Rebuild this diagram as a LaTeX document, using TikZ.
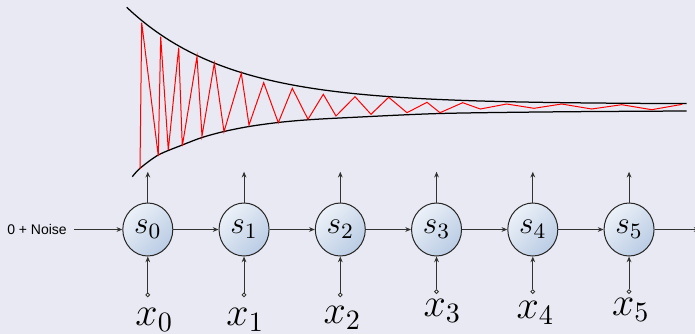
\RequirePackage{fix-cm}
\documentclass[tikz,border=0pt]{standalone}
\usepackage{fontspec}
\newfontfamily\noisefont{Liberation Sans}
\usepackage{tikz}
\usetikzlibrary{positioning,arrows.meta,shapes.geometric}
\definecolor{bgcol}{RGB}{233,233,243}
\definecolor{celllight}{RGB}{236,241,248}
\definecolor{celldark}{RGB}{186,204,228}
\definecolor{wire}{RGB}{50,50,50}

\begin{document}
\begin{tikzpicture}[
    x=0.4pt, y=-0.4pt,
    cell/.style={draw=black!85, ellipse, minimum width=20pt, minimum height=21.2pt, inner sep=0pt,
        top color=celllight, bottom color=celldark, shading angle=45, font=\fontsize{12.5}{15}\selectfont},
    inp/.style={draw=wire, circle, fill=white, inner sep=0pt, minimum size=1.5pt, line width=0.35pt},
    xlab/.style={anchor=base west, inner sep=0pt, font=\fontsize{16}{19}\selectfont},
    noise/.style={font=\noisefont\fontsize{5.6}{6}\selectfont, inner xsep=2.8pt, inner ysep=1pt},
    arrow/.style={-{Stealth[length=2.3pt,width=1.9pt]}, draw=wire, line width=0.4pt},
    envelope/.style={black, line width=0.5pt},
    zigzag/.style={red, line width=0.4pt, line join=miter}
]
    % Background
    \path[use as bounding box, fill=bgcol] (0,0) rectangle (695,334);

    % Envelope curves
    \draw[envelope] plot[domain=126.7:686.7, samples=80] (\x, {104-96.7*exp(-(\x-126.7)/102)});
    \draw[envelope] plot[smooth] coordinates {(132.3,176.7) (140,168.3) (158.3,155) (182.3,145) (202,137.5)
        (224,131.5) (249,126.5) (278,122.5) (308,119.8) (350,117.5) (440,113.5) (560,111.8) (686.7,111)};

    % Damped oscillation
    \draw[zigzag] (140,169) -- (141.7,22.7) -- (158.3,156) -- (160.7,36.7) -- (168.3,150) -- (178.7,47.7)
        -- (182.3,146) -- (197,56.7) -- (202,136) -- (214.3,63.3) -- (224,131.7) -- (241.3,73.3)
        -- (249,125) -- (263.7,82.7) -- (278.3,122.7) -- (292.3,88.3) -- (308,119.3) -- (323.3,94.3)
        -- (336,116) -- (355,96.7) -- (371,114.3) -- (388.7,97.3) -- (407,112.7) -- (427,102.3)
        -- (440,112.7) -- (462.7,102.7) -- (480.3,109) -- (506.7,104) -- (534,108.3) -- (561.7,104)
        -- (591.7,109) -- (621.7,104.7) -- (651.7,109.7) -- (682.3,104.3);

    % States
    \node[cell] (s0) at (147.8,229.5) {$s_0$};
    \node[cell, right=18.1pt of s0] (s1) {$s_1$};
    \node[cell, right=18.1pt of s1] (s2) {$s_2$};
    \node[cell, right=18.1pt of s2] (s3) {$s_3$};
    \node[cell, right=18.1pt of s3] (s4) {$s_4$};
    \node[cell, right=18.1pt of s4] (s5) {$s_5$};

    % Initial state
    \node[noise, left=19.2pt of s0] (noise) {0 + Noise};

    % Inputs
    \node[inp, below=14.4pt of s0] (in0) {};
    \node[inp, below=14.4pt of s1] (in1) {};
    \node[inp, below=14.4pt of s2] (in2) {};
    \node[inp, below=13.1pt of s3] (in3) {};
    \node[inp, below=13.1pt of s4] (in4) {};
    \node[inp, below=13.1pt of s5] (in5) {};

    \node[xlab] (x0) at (135,325) {$x_0$};
    \node[xlab] (x1) at (226,325) {$x_1$};
    \node[xlab] (x2) at (323,323.3) {$x_2$};
    \node[xlab] (x3) at (423,316.7) {$x_3$};
    \node[xlab] (x4) at (516,318) {$x_4$};
    \node[xlab] (x5) at (611.7,315) {$x_5$};

    % Outputs
    \coordinate[above=12.3pt of s0] (o0);
    \coordinate[above=12.3pt of s1] (o1);
    \coordinate[above=12.3pt of s2] (o2);
    \coordinate[above=12.3pt of s3] (o3);
    \coordinate[above=12.3pt of s4] (o4);
    \coordinate[above=12.3pt of s5] (o5);
    \coordinate[right=18pt of s5] (out);

    % Arrows
    \draw[arrow] (noise) -- (s0);
    \draw[arrow] (s0) -- (s1);
    \draw[arrow] (s1) -- (s2);
    \draw[arrow] (s2) -- (s3);
    \draw[arrow] (s3) -- (s4);
    \draw[arrow] (s4) -- (s5);
    \draw[arrow] (s5) -- (out);

    \draw[arrow] (in0) -- (s0);
    \draw[arrow] (in1) -- (s1);
    \draw[arrow] (in2) -- (s2);
    \draw[arrow] (in3) -- (s3);
    \draw[arrow] (in4) -- (s4);
    \draw[arrow] (in5) -- (s5);

    \draw[arrow] (s0) -- (o0);
    \draw[arrow] (s1) -- (o1);
    \draw[arrow] (s2) -- (o2);
    \draw[arrow] (s3) -- (o3);
    \draw[arrow] (s4) -- (o4);
    \draw[arrow] (s5) -- (o5);
\end{tikzpicture}
\end{document}
